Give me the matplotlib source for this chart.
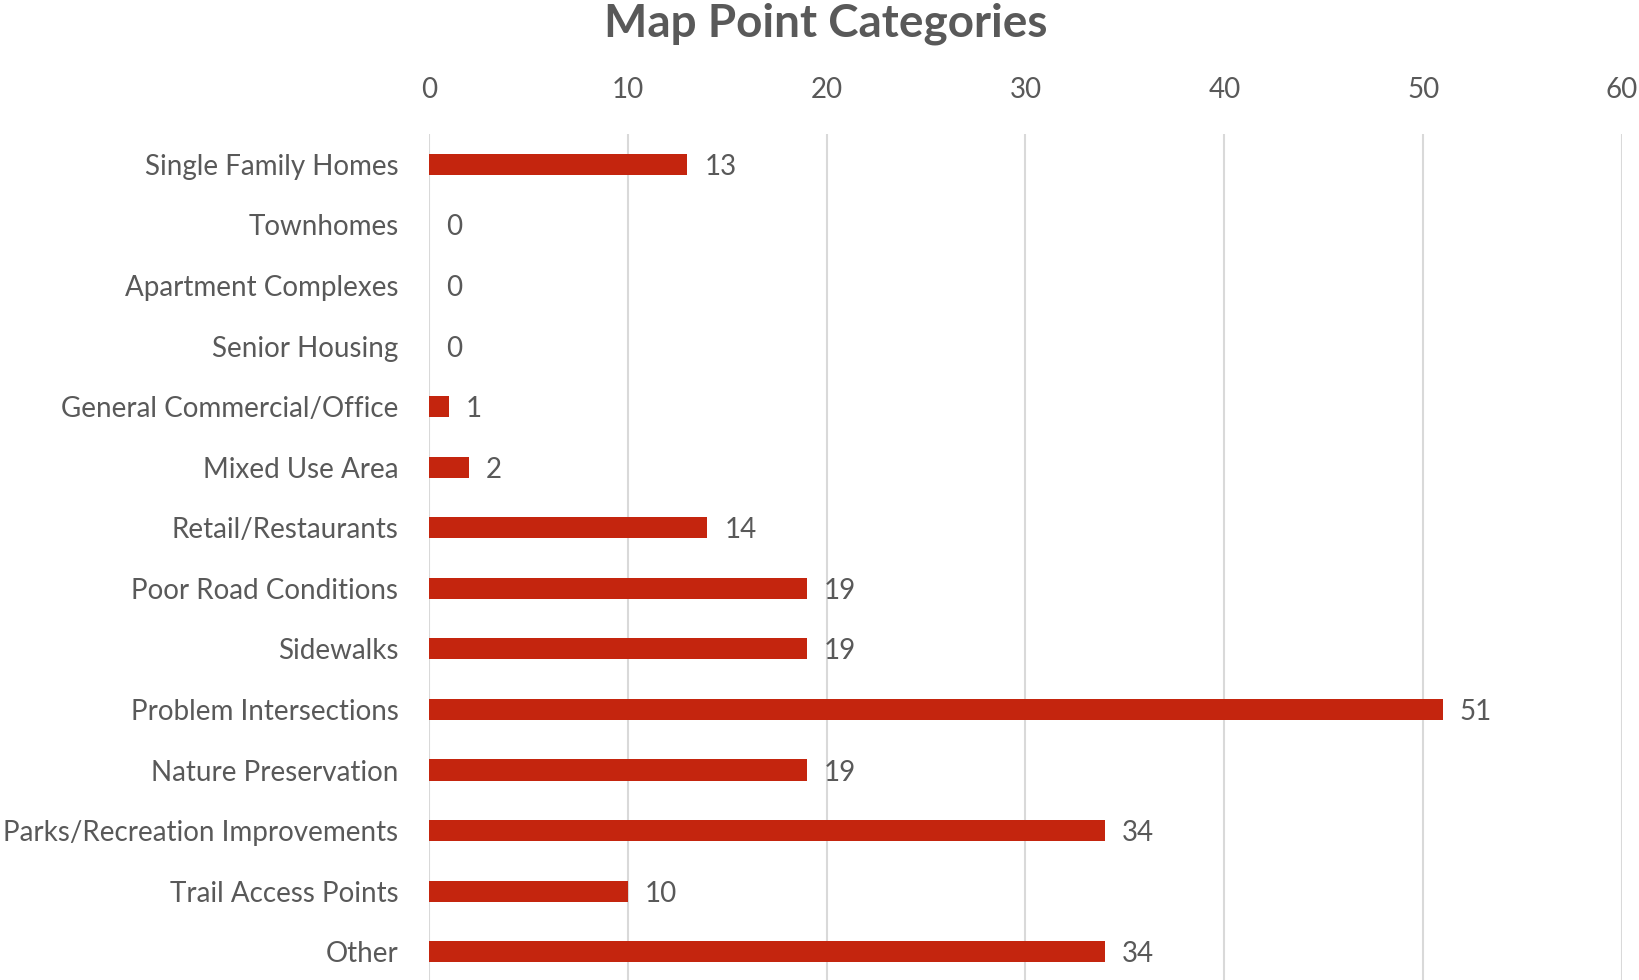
import matplotlib
matplotlib.use("Agg")
import matplotlib.pyplot as plt

categories = ["Single Family Homes", "Townhomes", "Apartment Complexes", "Senior Housing",
              "General Commercial/Office", "Mixed Use Area", "Retail/Restaurants",
              "Poor Road Conditions", "Sidewalks", "Problem Intersections",
              "Nature Preservation", "Parks/Recreation Improvements",
              "Trail Access Points", "Other"]
values = [13, 0, 0, 0, 1, 2, 14, 19, 19, 51, 19, 34, 10, 34]
xticks = [0, 10, 20, 30, 40, 50, 60]

plt.rcParams['font.family'] = ['Lato', 'DejaVu Sans']
TEXT = '#595959'
BAR = '#C4250E'
GRID = '#D9D9D9'

fig = plt.figure(figsize=(16.4, 9.8), dpi=100)
ax = fig.add_axes([429/1640, 1 - 982/980, (1622-429)/1640, 848/980])

y = list(range(len(categories)))
ax.barh(y, values, height=0.35, color=BAR, zorder=3)
ax.set_ylim(len(categories) - 0.5, -0.5)
ax.set_xlim(0, 60)
ax.set_xticks(xticks)
ax.xaxis.tick_top()
ax.set_yticks(y)
ax.set_yticklabels(categories)
ax.tick_params(axis='both', length=0, colors=TEXT, labelsize=20)
ax.tick_params(axis='x', pad=22)
ax.tick_params(axis='y', pad=22)
for lab in ax.get_yticklabels():
    lab.set_verticalalignment('center_baseline')
ax.grid(axis='x', color=GRID, linewidth=1.5, zorder=0)
for s in ax.spines.values():
    s.set_visible(False)

for yi, v in zip(y, values):
    ax.text(v + 0.85, yi, str(v), va='center_baseline', ha='left', fontsize=20, color=TEXT)

fig.text(826/1640, 1 - 24/980, "Map Point Categories", ha='center', va='center',
         fontsize=33, fontweight='bold', color=TEXT)

fig.savefig("out.png", dpi=100)
